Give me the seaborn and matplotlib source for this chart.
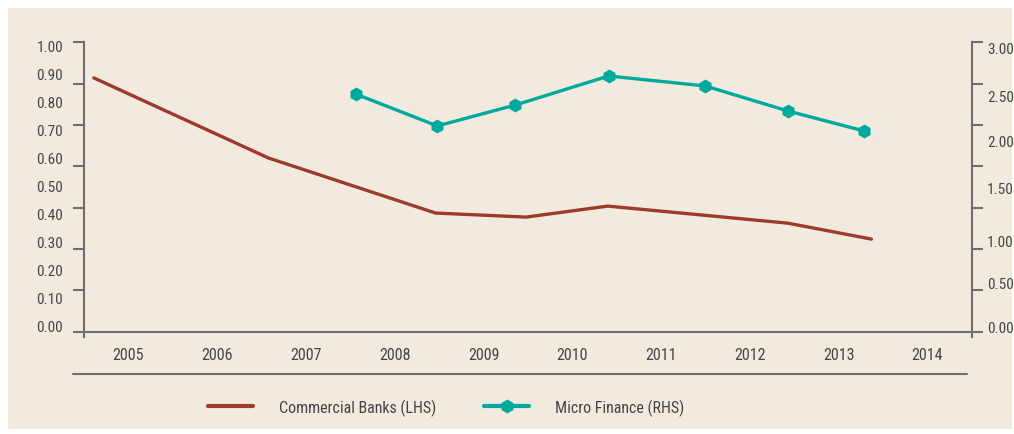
import numpy as np
import pandas as pd
import matplotlib
matplotlib.use("Agg")
import matplotlib.pyplot as plt
from matplotlib.lines import Line2D
from matplotlib.patches import Rectangle
from matplotlib import font_manager
import seaborn as sns

# ---- data ----
years = [2005, 2006, 2007, 2008, 2009, 2010, 2011, 2012, 2013, 2014]
cb_x = [2004.61, 2006.58, 2008.46, 2009.48, 2010.40, 2012.43, 2013.37]
cb_y = [0.877, 0.600, 0.410, 0.396, 0.434, 0.375, 0.320]
mf_x = [2007.56, 2008.48, 2009.36, 2010.41, 2011.50, 2012.43, 2013.29]
mf_y = [2.464, 2.133, 2.350, 2.651, 2.547, 2.288, 2.080]
left_labels = ["0.00", "0.10", "0.20", "0.30", "0.40", "0.50", "0.60", "0.70", "0.80", "0.90", "1.00"]
right_labels = ["0.00", "0.50", "1.00", "1.50", "2.00", "2.50", "3.00"]
right_label_pos = [0.049, 0.515, 0.943, 1.50, 1.98, 2.446, 2.948]
cb_name = "Commercial Banks (LHS)"
mf_name = "Micro Finance (RHS)"

BG = "#F2EADF"
RED = "#9C3B2C"
TEAL = "#00A99D"
AX = "#6E6E6E"
TXT = "#454545"

sns.set_theme(style="white")
names = {f.name for f in font_manager.fontManager.ttflist}
cands = ["Roboto Condensed", "Liberation Sans Narrow", "Open Sans Condensed"]
fam = [c for c in cands if c in names] + ["DejaVu Sans"]
plt.rcParams["font.family"] = fam
plt.rcParams["font.stretch"] = "condensed"
FS = 11 if fam[0] != "DejaVu Sans" else 9.5
LFS = FS + 0.5

fig = plt.figure(figsize=(10.14, 4.35), dpi=100)
fig.patch.set_facecolor("white")
fig.patches.append(Rectangle((8 / 1014, 5 / 435), 1004 / 1014, 421 / 435,
                             transform=fig.transFigure, facecolor=BG,
                             edgecolor="none", zorder=-10))

ax = fig.add_axes([84 / 1014, 102.3 / 435, 887.7 / 1014, 289.4 / 435])
ax.set_facecolor("none")

cb_df = pd.DataFrame({"x": cb_x, "y": cb_y})
mf_df = pd.DataFrame({"x": mf_x, "y": mf_y})

sns.lineplot(data=cb_df, x="x", y="y", ax=ax, color=RED, linewidth=2.4)
ax.set_xlim(2004.5, 2014.5)
ax.set_ylim(0, 1)

ax2 = ax.twinx()
sns.lineplot(data=mf_df, x="x", y="y", ax=ax2, color=TEAL, linewidth=2.4,
             marker="h", markersize=10, markeredgewidth=0)
ax2.set_ylim(0, 3)
ax2.set_xlim(2004.5, 2014.5)

for a in (ax, ax2):
    a.set_xlabel("")
    a.set_ylabel("")
    for s in a.spines.values():
        s.set_visible(False)

ax.spines["left"].set_visible(True)
ax.spines["bottom"].set_visible(True)
ax2.spines["right"].set_visible(True)
for s in (ax.spines["left"], ax.spines["bottom"], ax2.spines["right"]):
    s.set_color(AX)
    s.set_linewidth(1.5)
ax.spines["left"].set_bounds(-0.02, 1.0)
ax2.spines["right"].set_bounds(-0.06, 3.0)

# x axis
ax.set_xticks(years)
ax.set_xticklabels([str(y) for y in years], fontsize=FS + 0.5, color=TXT)
ax.tick_params(axis="x", length=0, pad=11)

# left y axis: evenly spaced tick marks, labels as minor ticks
ax.set_yticks(np.linspace(0, 1, 8))
ax.set_yticklabels([])
ax.tick_params(axis="y", which="major", length=8, width=1.5, color=AX, left=True, direction="out")
ax.set_yticks(np.linspace(0.02, 0.988, 11), minor=True)
ax.set_yticklabels(left_labels, minor=True, fontsize=FS, color=TXT)
ax.tick_params(axis="y", which="minor", length=0, pad=15, left=True)

# right y axis
ax2.set_yticks(np.linspace(0, 3, 8))
ax2.set_yticklabels([])
ax2.tick_params(axis="y", which="major", length=8, width=1.5, color=AX, right=True, direction="out")
ax2.set_yticks(right_label_pos, minor=True)
ax2.set_yticklabels(right_labels, minor=True, fontsize=FS, color=TXT)
ax2.tick_params(axis="y", which="minor", length=0, pad=11, right=True)

# separator line under the x labels
fig.lines.append(Line2D([73 / 1014, 967 / 1014], [60 / 435, 60 / 435],
                        transform=fig.transFigure, color=AX, linewidth=1.5))

# legend
em = LFS * 100 / 72
handles = [Line2D([], [], color=RED, linewidth=3),
           Line2D([], [], color=TEAL, linewidth=3, marker="h", markersize=10, markeredgewidth=0)]
leg = fig.legend(handles, [cb_name, mf_name], loc="center left",
                 bbox_to_anchor=(208 / 1014, 27 / 435), ncol=2, frameon=False,
                 fontsize=LFS, handlelength=45 / em, handletextpad=26 / em,
                 columnspacing=48 / em, borderpad=0, borderaxespad=0)
for t in leg.get_texts():
    t.set_color(TXT)

fig.savefig("out.png", dpi=100, facecolor=fig.get_facecolor())
